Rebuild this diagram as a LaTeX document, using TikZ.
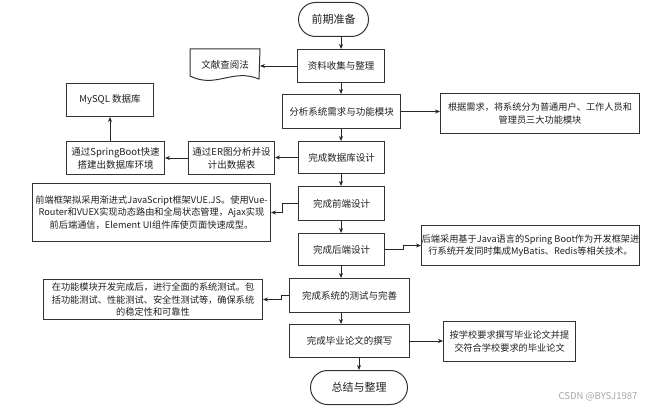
\documentclass[tikz,border=0pt]{standalone}
\usepackage{fontspec}
\setmainfont{Noto Sans CJK SC}
\usetikzlibrary{arrows.meta}
\tikzset{
  box/.style={draw=black!80, line width=1pt, anchor=north west, inner sep=0pt, align=center,
    font=\fontsize{9.5}{13}\selectfont, text=black!88},
  term/.style={box, rounded corners=17pt, font=\fontsize{11}{13}\selectfont},
  desc/.style={box, font=\fontsize{9.2}{12.5}\selectfont},
  arr/.style={draw=black!85, line width=0.9pt, -{Stealth[length=5pt,width=4pt]}},
}
\begin{document}
\begin{tikzpicture}[x=1pt,y=-1pt]
\useasboundingbox (0,0) rectangle (661,411);
\coordinate (col) at (341,0);
% main column
\node[term, minimum width=70pt, minimum height=34pt] (start) at (298,2) {前期准备};
\node[box, minimum width=87pt, minimum height=33pt] (n1) at (297,49) {资料收集与整理};
\node[box, minimum width=118pt, minimum height=34pt] (n2) at (282,94) {分析系统需求与功能模块};
\node[box, minimum width=86pt, minimum height=32pt] (n3) at (298,141) {完成数据库设计};
\node[box, minimum width=86pt, minimum height=34pt] (n4) at (298,186) {完成前端设计};
\node[box, minimum width=86pt, minimum height=32pt] (n5) at (298,233) {完成后端设计};
\node[box, minimum width=120pt, minimum height=34pt] (n6) at (289,278) {完成系统的测试与完善};
\node[box, minimum width=120pt, minimum height=33pt] (n7) at (289,324) {完成毕业论文的撰写};
\node[term, minimum width=97pt, minimum height=34pt] (end) at (310,370) {总结与整理};
% side nodes
\node[box, draw=none, minimum width=69pt, minimum height=30pt] (doc) at (190,49) {文献查阅法};
\draw[draw=black!80, line width=1pt] (doc.north west) -- (doc.north east) -- (259,79)
  .. controls (232,68) and (216,89) .. (190,76) -- cycle;
\node[desc, minimum width=199pt, minimum height=40pt] (r2) at (440,93)
  {根据需求，将系统分为普通用户、工作人员和\\管理员三大功能模块};
\node[box, minimum width=86pt, minimum height=33pt] (er) at (188,141) {通过ER图分析并设\\计出数据表};
\node[box, minimum width=98pt, minimum height=33pt] (sb) at (66,141) {通过SpringBoot快速\\搭建出数据库环境};
\node[box, minimum width=87pt, minimum height=33pt] (my) at (66,83) {MySQL 数据库};
\node[desc, minimum width=238pt, minimum height=58pt] (fe) at (32,183)
  {前端框架拟采用渐进式JavaScript框架VUE.JS。使用Vue-\\Router和VUEX实现动态路由和全局状态管理，Ajax实现\\前后端通信，Element UI组件库使页面快速成型。};
\node[desc, minimum width=218pt, minimum height=40pt] (be) at (421,225)
  {后端采用基于Java语言的Spring Boot作为开发框架进\\行系统开发同时集成MyBatis、Redis等相关技术。};
\node[desc, minimum width=219pt, minimum height=40pt] (te) at (43,279)
  {在功能模块开发完成后，进行全面的系统测试。包\\括功能测试、性能测试、安全性测试等，确保系统\\的稳定性和可靠性};
\node[desc, minimum width=132pt, minimum height=40pt] (th) at (443,321)
  {按学校要求撰写毕业论文并提\\交符合学校要求的毕业论文};
\node[font=\fontsize{9.5}{11}\selectfont, text=black!35, inner sep=0pt] (wm) at (598,397) {CSDN @BYSJ1987};
% vertical arrows
\draw[arr] (start.south -| col) -- (n1.north -| col);
\draw[arr] (n1.south -| col) -- (n2.north -| col);
\draw[arr] (n2.south -| col) -- (n3.north -| col);
\draw[arr] (n3.south -| col) -- (n4.north -| col);
\draw[arr] (n4.south -| col) -- (n5.north -| col);
\draw[arr] (n5.south -| col) -- (n6.north -| col);
\draw[arr] (n6.south -| col) -- (n7.north -| col);
\draw[arr] (n7.south -| end.north) -- (end.north);
% side arrows
\draw[arr] (n1.west) -- (doc.east |- n1.west);
\draw[arr] (n2.east) -- (r2.west |- n2.east);
\draw[arr] (n3.west) -- (er.east |- n3.west);
\draw[arr] (er.west) -- (sb.east |- er.west);
\draw[arr] (my.south |- sb.north) -- (my.south);
\draw[arr] (n4.west) -- ++(-16,0) |- (fe.east);
\draw[arr] (n5.east) -- ++(18,0) |- (be.west);
\draw[arr] (n6.west) -- ++(-8,0) |- (te.east);
\draw[arr] (n7.east) -- (th.west |- n7.east);
\end{tikzpicture}
\end{document}
